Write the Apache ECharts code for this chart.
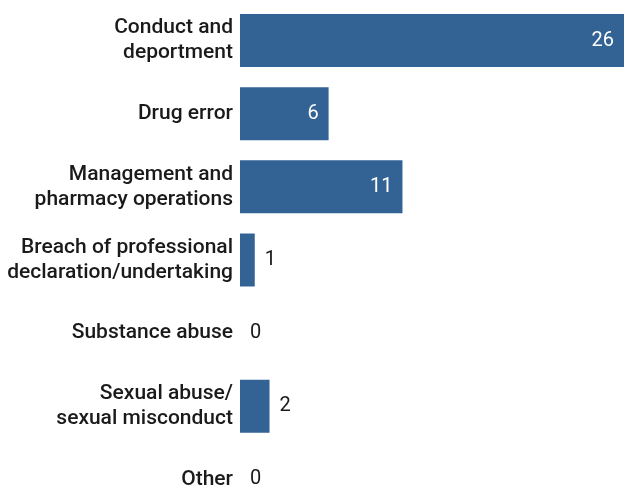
<!DOCTYPE html>
<html>
<head>
<meta charset="utf-8">
<script src="https://cdn.jsdelivr.net/npm/echarts@6/dist/echarts.min.js"></script>
<style>html,body{margin:0;padding:0;background:#fff}#c{width:624px;height:491px}</style>
</head>
<body>
<div id="c"></div>
<script>
const categories = [
  "Conduct and\ndeportment",
  "Drug error",
  "Management and\npharmacy operations",
  "Breach of professional\ndeclaration/undertaking",
  "Substance abuse",
  "Sexual abuse/\nsexual misconduct",
  "Other"
];
const values = [26, 6, 11, 1, 0, 2, 0];
const insideThreshold = 5;

const chart = echarts.init(document.getElementById('c'), null, {renderer: 'canvas'});
chart.setOption({
  animation: false,
  grid: {left: 240, width: 384, top: 4, height: 512, containLabel: false, outerBoundsMode: 'none'},
  xAxis: {type: 'value', min: 0, max: 26, show: false},
  yAxis: {
    type: 'category', data: categories, inverse: true,
    axisLine: {show: false}, axisTick: {show: false}, splitLine: {show: false},
    axisLabel: {margin: 7, color: '#1a1a1a', fontFamily: 'Roboto', fontWeight: 500, fontSize: 21, lineHeight: 25, align: 'right'}
  },
  series: [{
    type: 'bar', barWidth: 53,
    itemStyle: {color: '#336294'},
    data: values.map(v => ({
      value: v,
      label: v >= insideThreshold
        ? {show: true, position: 'insideRight', distance: 10, color: '#ffffff'}
        : {show: true, position: 'right', distance: 10, color: '#1a1a1a'}
    })),
    label: {fontFamily: 'Roboto', fontSize: 20, fontWeight: 400}
  }]
});
</script>
</body>
</html>
